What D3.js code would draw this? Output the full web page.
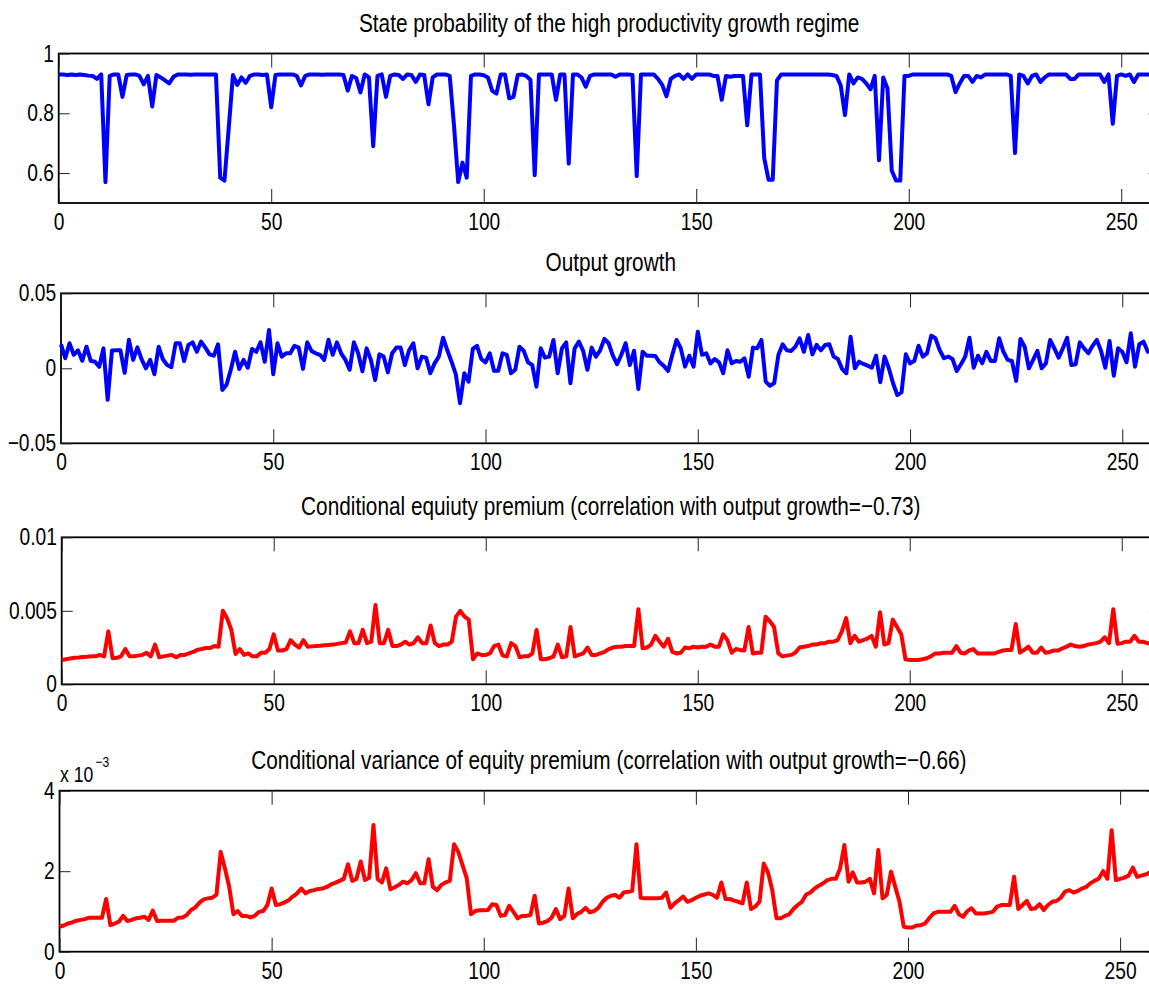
<!DOCTYPE html>
<html><head><meta charset="utf-8">
<script src="https://cdn.jsdelivr.net/npm/d3@7"></script>
<style>
body{margin:0;background:#fff}
svg{display:block}
text{font-family:"Liberation Sans",Arial,Helvetica,sans-serif;fill:#000}
</style>
</head><body>
<svg id="chart" width="1149" height="985"></svg>
<script>
// ---------------- data ----------------
const xTicks = [0, 50, 100, 150, 200, 250];
const xMax = 259;

const probHigh = [
0.930,0.930,0.928,0.930,0.928,0.930,0.928,0.926,0.925,0.915,
0.930,0.570,0.925,0.930,0.930,0.855,0.928,0.930,0.930,0.925,
0.897,0.925,0.823,0.928,0.920,0.910,0.900,0.922,0.930,0.930,
0.930,0.929,0.930,0.930,0.930,0.930,0.930,0.930,0.585,0.575,
0.750,0.928,0.895,0.920,0.902,0.925,0.930,0.930,0.928,0.930,
0.820,0.928,0.930,0.930,0.930,0.930,0.925,0.893,0.925,0.930,
0.930,0.930,0.929,0.930,0.930,0.930,0.930,0.928,0.876,0.925,
0.918,0.870,0.930,0.920,0.690,0.925,0.930,0.855,0.925,0.930,
0.928,0.915,0.930,0.928,0.905,0.930,0.928,0.830,0.920,0.930,
0.930,0.930,0.925,0.760,0.570,0.635,0.585,0.925,0.930,0.930,
0.927,0.920,0.875,0.866,0.930,0.930,0.850,0.855,0.928,0.930,
0.925,0.912,0.593,0.930,0.930,0.930,0.930,0.845,0.930,0.930,
0.632,0.930,0.930,0.920,0.889,0.925,0.930,0.930,0.930,0.930,
0.930,0.922,0.930,0.930,0.930,0.928,0.590,0.930,0.930,0.930,
0.930,0.915,0.895,0.857,0.915,0.925,0.930,0.915,0.930,0.915,
0.930,0.930,0.930,0.930,0.925,0.925,0.845,0.925,0.922,0.925,
0.925,0.925,0.760,0.930,0.930,0.930,0.650,0.578,0.578,0.910,
0.930,0.930,0.930,0.930,0.930,0.930,0.930,0.930,0.930,0.930,
0.930,0.930,0.928,0.925,0.893,0.794,0.930,0.900,0.920,0.915,
0.900,0.880,0.925,0.643,0.920,0.883,0.609,0.575,0.575,0.925,
0.925,0.930,0.930,0.930,0.930,0.930,0.930,0.930,0.930,0.930,
0.925,0.871,0.900,0.925,0.925,0.905,0.925,0.920,0.930,0.930,
0.930,0.930,0.930,0.930,0.925,0.667,0.930,0.925,0.900,0.925,
0.930,0.905,0.920,0.930,0.930,0.930,0.930,0.930,0.915,0.915,
0.930,0.930,0.930,0.930,0.930,0.930,0.905,0.930,0.765,0.925,
0.930,0.925,0.930,0.905,0.930,0.930,0.930,0.930
];

const outputGrowth = [
0.016,0.0067,0.0167,0.009,0.012,0.005,0.0144,0.005,0.0044,0.001,
0.0133,-0.021,0.0118,0.012,0.012,-0.003,0.019,0.0056,0.014,0.006,
0.0,0.0056,-0.004,0.0144,0.006,0.0022,0.0007,0.0167,0.0167,0.0049,
0.0156,0.0173,0.011,0.0178,0.0138,0.0093,0.0084,0.016,-0.0144,-0.011,
-0.001,0.011,-0.0004,0.0056,0.0004,0.0129,0.011,0.0173,0.0044,0.0256,
-0.004,0.0167,0.0078,0.01,0.01,0.015,0.0138,-0.0004,0.0173,0.0116,
0.01,0.009,0.0056,0.019,0.009,0.0173,0.01,0.0056,-0.001,0.0173,
0.01,-0.002,0.0133,0.0056,-0.0078,0.0093,0.0078,-0.0027,0.01,0.0138,
0.0138,0.0022,0.012,0.0167,0.0,0.0078,0.0071,-0.0033,0.0033,0.0078,
0.0204,0.012,0.0044,-0.004,-0.0233,-0.0033,-0.0089,0.0129,0.015,0.0062,
0.004,0.01,-0.0016,-0.0016,0.01,0.009,-0.0033,-0.001,0.0144,0.0116,
0.004,0.0022,-0.0122,0.0133,0.0071,0.0078,0.0189,-0.0033,0.0133,0.0173,
-0.01,0.0133,0.0178,0.0116,-0.001,0.0138,0.0078,0.012,0.0196,0.0167,
0.0084,0.0027,0.009,0.0167,0.0022,0.0116,-0.0138,0.011,0.0084,0.0084,
0.0082,0.004,0.0016,-0.0018,0.009,0.0189,0.0133,0.0011,0.0084,0.0011,
0.0244,0.009,0.01,0.0033,0.0062,0.004,-0.0033,0.012,0.0033,0.0049,
0.0044,0.0067,-0.0056,0.0138,0.0133,0.0189,-0.0089,-0.0116,-0.01,0.009,
0.016,0.012,0.0116,0.0144,0.02,0.011,0.0222,0.0093,0.0156,0.012,
0.0156,0.016,0.0078,0.0062,-0.0004,-0.0033,0.0211,0.0,0.0044,0.0029,
0.0018,0.0004,0.0084,-0.0093,0.0078,0.0,-0.01,-0.0178,-0.016,0.0093,
0.0033,0.0049,0.015,0.0078,0.01,0.0218,0.02,0.012,0.0067,0.0078,
0.0062,-0.0018,0.0027,0.0078,0.0204,0.0004,0.0084,0.0033,0.011,0.0049,
0.0049,0.02,0.011,0.0056,0.0049,-0.0084,0.0196,0.0144,0.0,0.0056,
0.0116,0.0,0.0033,0.0189,0.0133,0.0071,0.0133,0.0204,0.0022,0.0027,
0.0173,0.0133,0.01,0.015,0.0189,0.0116,0.0004,0.0182,-0.0049,0.0133,
0.011,0.004,0.0233,0.0011,0.016,0.0178,0.011,0.011
];

const equityPremium = [
0.00165,0.0017,0.00175,0.0018,0.00182,0.00185,0.00188,0.0019,0.0019,0.002,
0.0019,0.0036,0.00177,0.0018,0.0019,0.0024,0.0019,0.0019,0.00195,0.002,
0.00215,0.0019,0.0027,0.00184,0.0019,0.00195,0.002,0.00184,0.002,0.002,
0.0021,0.0022,0.00234,0.0024,0.00247,0.00247,0.0026,0.00256,0.005,0.0045,
0.0037,0.00206,0.0024,0.002,0.0021,0.0019,0.0019,0.00215,0.00215,0.0024,
0.0034,0.0023,0.0023,0.0024,0.003,0.0027,0.0025,0.003,0.00256,0.00258,
0.0026,0.00262,0.00265,0.00268,0.0027,0.00275,0.0028,0.00285,0.0036,0.0028,
0.0028,0.0037,0.0028,0.0029,0.0054,0.0028,0.0028,0.0037,0.0026,0.0026,
0.0027,0.0029,0.0027,0.0028,0.0032,0.0028,0.0028,0.004,0.0028,0.0026,
0.0027,0.0027,0.0029,0.0046,0.005,0.0046,0.0044,0.0017,0.0021,0.002,
0.002,0.0021,0.0026,0.0027,0.00195,0.0019,0.0028,0.0026,0.00184,0.0019,
0.0019,0.0021,0.0037,0.0017,0.0017,0.00177,0.0019,0.0027,0.00184,0.0019,
0.0039,0.0019,0.002,0.0021,0.0025,0.002,0.002,0.0021,0.0022,0.0024,
0.0025,0.00256,0.00256,0.0026,0.0026,0.0026,0.0051,0.00245,0.0025,0.0027,
0.0033,0.0029,0.00256,0.0031,0.0022,0.0021,0.00215,0.0025,0.00245,0.00256,
0.0025,0.00256,0.00256,0.0027,0.00256,0.00256,0.0034,0.003,0.00215,0.0024,
0.00234,0.0023,0.0039,0.0021,0.00215,0.00215,0.0046,0.0043,0.0039,0.0021,
0.0019,0.00195,0.002,0.00215,0.0025,0.00256,0.0026,0.0027,0.0027,0.0028,
0.0028,0.0029,0.0029,0.003,0.0036,0.0045,0.0028,0.0033,0.0029,0.003,
0.0031,0.0033,0.00256,0.0049,0.0027,0.0028,0.0044,0.0039,0.0034,0.0017,
0.00166,0.00166,0.00166,0.0017,0.00177,0.0019,0.0021,0.0021,0.00215,0.00215,
0.00215,0.0026,0.00215,0.0021,0.0023,0.0024,0.0021,0.0021,0.0021,0.0021,
0.0021,0.0022,0.0023,0.00234,0.00234,0.0041,0.00215,0.00234,0.00256,0.00215,
0.00215,0.0025,0.00215,0.0022,0.0023,0.0023,0.00245,0.00256,0.0027,0.0026,
0.00256,0.0026,0.0027,0.00275,0.0028,0.0029,0.0032,0.0028,0.0051,0.00275,
0.0028,0.0029,0.0029,0.0033,0.0029,0.0029,0.0028,0.0028
];

// conditional variance, in units of 1e-3
const equityVarianceE3 = [
0.62,0.65,0.70,0.73,0.77,0.79,0.81,0.845,0.845,0.845,
0.845,1.31,0.66,0.70,0.745,0.89,0.76,0.79,0.83,0.845,
0.87,0.79,1.02,0.76,0.77,0.77,0.77,0.77,0.845,0.85,
0.91,1.035,1.10,1.22,1.30,1.325,1.34,1.42,2.48,2.07,
1.61,0.93,1.01,0.89,0.89,0.85,0.89,0.99,1.01,1.16,
1.57,1.16,1.18,1.22,1.28,1.37,1.45,1.57,1.45,1.51,
1.53,1.56,1.57,1.61,1.67,1.71,1.76,1.81,2.17,1.76,
1.81,2.24,1.78,1.84,3.15,1.80,1.72,2.07,1.55,1.60,
1.66,1.74,1.70,1.78,1.95,1.70,1.70,2.30,1.61,1.53,
1.66,1.72,1.76,2.67,2.48,2.15,1.82,0.93,1.01,1.03,
1.03,1.035,1.18,1.16,0.89,0.91,1.14,0.99,0.83,0.89,
0.89,0.91,1.39,0.70,0.72,0.76,0.845,1.06,0.81,0.89,
1.57,0.83,0.94,0.99,1.09,0.98,1.01,1.09,1.24,1.34,
1.39,1.41,1.34,1.47,1.49,1.51,2.67,1.34,1.325,1.325,
1.325,1.325,1.34,1.47,1.09,1.20,1.28,1.37,1.24,1.28,
1.34,1.39,1.42,1.45,1.41,1.34,1.72,1.31,1.31,1.27,
1.24,1.20,1.72,1.06,1.12,1.24,2.19,1.97,1.53,0.83,
0.83,0.89,0.93,1.06,1.16,1.24,1.42,1.47,1.57,1.64,
1.70,1.78,1.81,1.81,2.07,2.65,1.74,1.97,1.72,1.72,
1.74,1.81,1.45,2.53,1.325,1.41,1.99,1.61,1.24,0.62,
0.60,0.60,0.65,0.66,0.70,0.83,0.95,0.99,0.99,0.99,
0.99,1.14,0.93,0.87,1.01,1.08,0.95,0.95,0.95,0.97,
0.99,1.12,1.16,1.16,1.16,1.86,1.06,1.16,1.26,1.06,
1.08,1.18,1.035,1.16,1.24,1.26,1.34,1.49,1.53,1.47,
1.51,1.57,1.61,1.70,1.76,1.82,2.00,1.81,3.02,1.78,
1.81,1.84,1.89,2.09,1.86,1.89,1.92,1.95
];

const titles = [
  "State probability of the high productivity growth regime",
  "Output growth",
  "Conditional equiuty premium (correlation with output growth=\u22120.73)",
  "Conditional variance of equity premium (correlation with output growth=\u22120.66)"
];
const yTickValues = [[0.6, 0.8, 1], [-0.05, 0, 0.05], [0, 0.005, 0.01], [0, 2, 4]];
const yTickLabels = [["0.6", "0.8", "1"], ["\u22120.05", "0", "0.05"], ["0", "0.005", "0.01"], ["0", "2", "4"]];
const yDomains = [[0.5, 1], [-0.05, 0.05], [0, 0.01], [0, 4]];

// ---------------- layout / style ----------------
const series = [probHigh, outputGrowth, equityPremium, equityVarianceE3];
const colors = ["#0000ff", "#0000ff", "#ff0000", "#ff0000"];
const layout = [
  {left: 58.7, right: 1159.5, top: 53.5, bottom: 203},
  {left: 61.0, right: 1160.5, top: 293.3, bottom: 443.3},
  {left: 61.7, right: 1159.9, top: 537.3, bottom: 684.3},
  {left: 59.5, right: 1158.3, top: 790.7, bottom: 951.7}
];
const SX = 0.8;          // horizontal condensing of the Helvetica-like text
const tickFont = 24;
const titleFont = 26;

const svg = d3.select("#chart");

function styleAxis(sel) {
  sel.select(".domain").remove();
  sel.selectAll(".tick line").attr("stroke", "#222").attr("stroke-width", 1);
  sel.selectAll(".tick text")
    .attr("font-size", tickFont)
    .attr("fill", "#000")
    .attr("transform", `scale(${SX},1)`);
}

layout.forEach((L, k) => {
  const x = d3.scaleLinear().domain([0, xMax]).range([L.left, L.right]);
  const y = d3.scaleLinear().domain(yDomains[k]).range([L.bottom, L.top]);
  const g = svg.append("g");

  // frame
  g.append("rect")
    .attr("x", L.left).attr("y", L.top)
    .attr("width", L.right - L.left).attr("height", L.bottom - L.top)
    .attr("fill", "none").attr("stroke", "#000").attr("stroke-width", 1.8);

  const labelOf = v => yTickLabels[k][yTickValues[k].indexOf(v)];

  g.append("g").attr("transform", `translate(0,${L.bottom})`)
    .call(d3.axisBottom(x).tickValues(xTicks).tickSizeInner(-14).tickSizeOuter(0).tickPadding(10))
    .call(styleAxis);
  g.append("g").attr("transform", `translate(0,${L.top})`)
    .call(d3.axisTop(x).tickValues(xTicks).tickSizeInner(-14).tickSizeOuter(0).tickFormat(""))
    .call(styleAxis);
  g.append("g").attr("transform", `translate(${L.left},0)`)
    .call(d3.axisLeft(y).tickValues(yTickValues[k]).tickFormat(labelOf).tickSizeInner(-11).tickSizeOuter(0).tickPadding(6))
    .call(styleAxis);
  g.append("g").attr("transform", `translate(${L.right},0)`)
    .call(d3.axisRight(y).tickValues(yTickValues[k]).tickSizeInner(-11).tickSizeOuter(0).tickFormat(""))
    .call(styleAxis);

  // data line
  g.append("path")
    .datum(series[k])
    .attr("fill", "none")
    .attr("stroke", colors[k])
    .attr("stroke-width", 4)
    .attr("stroke-linejoin", "round")
    .attr("d", d3.line().x((d, i) => x(i)).y(d => y(d)));

  // title
  g.append("text")
    .attr("text-anchor", "middle")
    .attr("font-size", titleFont)
    .attr("transform", `translate(${(L.left + L.right) / 2},${L.top - 22}) scale(${SX},1)`)
    .text(titles[k]);
});

// exponent label of the last panel
const L4 = layout[3];
svg.append("text")
  .attr("font-size", 22)
  .attr("transform", `translate(${L4.left + 0.5},${L4.top - 9}) scale(${SX},1)`)
  .text("x 10");
svg.append("text")
  .attr("font-size", 15)
  .attr("transform", `translate(${L4.left + 36},${L4.top - 24}) scale(${SX},1)`)
  .text("\u22123");
</script>
</body></html>
